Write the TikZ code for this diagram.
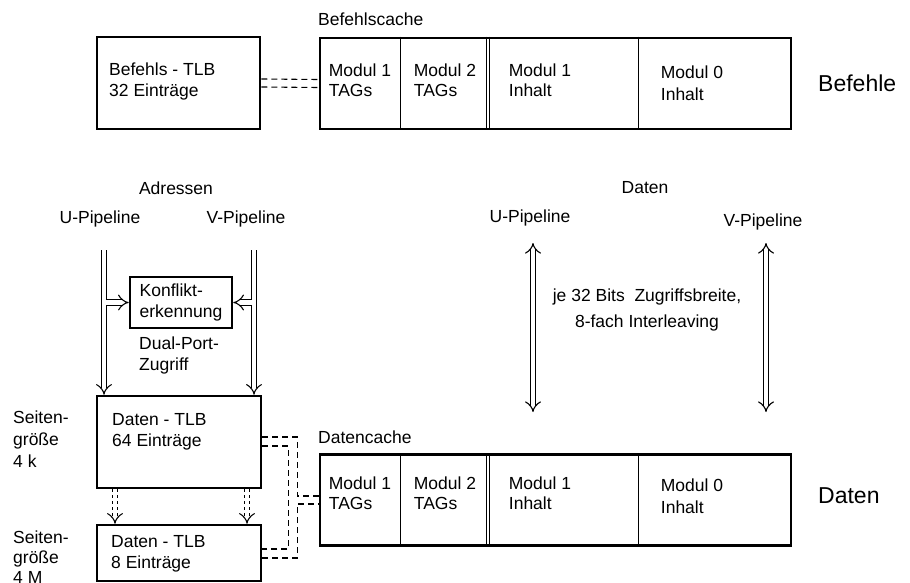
\documentclass[tikz,border=0pt]{standalone}
\usepackage{fontspec}
\setmainfont{Liberation Sans}
\usetikzlibrary{arrows.meta}

\tikzset{
    txt/.style={inner sep=0, font=\fontsize{17.5}{21}\selectfont, align=left},
    bigtxt/.style={inner sep=0, font=\fontsize{23}{27}\selectfont},
    box/.style={draw, line width=2.6, inner sep=0},
    divider/.style={line width=1.1},
    dashline/.style={dashed, line width=1.1, dash pattern=on 6 off 4},
    dbl/.style={double, double distance=4.5, line width=1.1, -{Implies}},
    dbltwo/.style={double, double distance=4.5, line width=1.1, {Implies}-{Implies}}
}

\begin{document}
\begin{tikzpicture}[x=1pt, y=-1pt]
    \useasboundingbox (0,0) rectangle (910,583);

    % Draw the boxes
    \node[box, minimum width=163, minimum height=92] (btlb) at (178.5,83) {};
    \node[box, minimum width=471, minimum height=91] (bcache) at (555.5,83.5) {};
    \node[box, minimum width=164, minimum height=92] (dtlb) at (179,442) {};
    \node[box, minimum width=164, minimum height=56] (dtlbvier) at (179,553) {};
    \node[box, minimum width=471, minimum height=91] (dcache) at (555.5,500) {};
    \node[box, minimum width=102, minimum height=51, font=\fontsize{17.5}{21}\selectfont, align=left] (konf) at (181,302.5) {Konflikt-\\erkennung};

    % Texts inside the TLB boxes
    \node[txt, anchor=north west] at (109,63) {Befehls - TLB\\32 Einträge};
    \node[txt, anchor=north west] at (112,413) {Daten - TLB\\64 Einträge};
    \node[txt, anchor=north west] at (111,535) {Daten - TLB\\8 Einträge};

    % Dividers and cells of both caches
    \foreach \c/\dy in {bcache/0,dcache/-4} {
            \foreach \dx in {82,168,171,320} {
                    \draw[divider] (\c.north west) ++(\dx,0) -- ++(0,91);
                }
            \node[txt, anchor=north west, font=\fontsize{17.5}{20}\selectfont] at ([shift={(10,27+\dy)}]\c.north west) {Modul 1\\TAGs};
            \node[txt, anchor=north west, font=\fontsize{17.5}{20}\selectfont] at ([shift={(95,27+\dy)}]\c.north west) {Modul 2\\TAGs};
            \node[txt, anchor=north west, font=\fontsize{17.5}{20}\selectfont] at ([shift={(190,27+\dy)}]\c.north west) {Modul 1\\Inhalt};
            \node[txt, anchor=north west, font=\fontsize{17.5}{22}\selectfont] at ([shift={(342,29+\dy)}]\c.north west) {Modul 0\\Inhalt};
        }

    % Labels
    \node[txt, anchor=south west] (bclabel) at (318,26) {Befehlscache};
    \node[txt, anchor=south west] (dclabel) at (318,444) {Datencache};
    \node[bigtxt, anchor=west] (befehle) at (818,83) {Befehle};
    \node[bigtxt, anchor=west] (daten) at (818,496) {Daten};
    \node[txt] (adressen) at (176,188) {Adressen};
    \node[txt] (upa) at (100,219) {U-Pipeline};
    \node[txt] (vpa) at (246,219) {V-Pipeline};
    \node[txt] (datlabel) at (645,188) {Daten};
    \node[txt] (upd) at (530,218) {U-Pipeline};
    \node[txt] (vpd) at (763,222) {V-Pipeline};
    \node[txt, anchor=north west] (dualport) at (139,337) {Dual-Port-\\Zugriff};
    \node[txt, anchor=north west, font=\fontsize{17.5}{22}\selectfont] (seitenk) at (13,411) {Seiten-\\größe\\4 k};
    \node[txt, anchor=north west, font=\fontsize{17.5}{20}\selectfont] (seitenm) at (13,531) {Seiten-\\größe\\4 M};
    \node[txt, align=center] (zugriff) at (647,310) {je 32 Bits\ \ Zugriffsbreite,\\[5pt]8-fach Interleaving};

    % Address paths into the data TLB
    \coordinate (ua) at (104,250);
    \coordinate (va) at (254,250);
    \coordinate (uar) at (106.25,250);
    \coordinate (val) at (251.75,250);
    \draw[dbl] (ua) -- (ua |- dtlb.north);
    \draw[dbl] (va) -- (va |- dtlb.north);
    \draw[dbl] (uar |- konf.west) -- (konf.west);
    \draw[dbl] (val |- konf.east) -- (konf.east);

    % Between the two data TLBs
    \coordinate (tla) at (115,0);
    \coordinate (tlb) at (247,0);
    \draw[dbl, dashed] (tla |- dtlb.south) -- (tla |- dtlbvier.north);
    \draw[dbl, dashed] (tlb |- dtlb.south) -- (tlb |- dtlbvier.north);

    % Data paths
    \coordinate (ud) at (533,243);
    \coordinate (vd) at (766,243);
    \draw[dbltwo] (ud) -- ++(0,169);
    \draw[dbltwo] (vd) -- ++(0,169);

    % Dashed connections
    \draw[dashline] ([yshift=4]btlb.east) -- ([yshift=4]bcache.west);
    \draw[dashline] ([yshift=-4]btlb.east) -- ([yshift=-4]bcache.west);
    \draw[dashline] ([yshift=5]dtlb.east) -- ++(35,0) |- ([yshift=4]dcache.west);
    \draw[dashline] ([yshift=-4]dtlb.east) -- ++(26,0) |- ([yshift=4]dtlbvier.east);
    \draw[dashline] ([yshift=-5]dtlbvier.east) -- ++(35,0) |- ([yshift=-4]dcache.west);
\end{tikzpicture}
\end{document}
